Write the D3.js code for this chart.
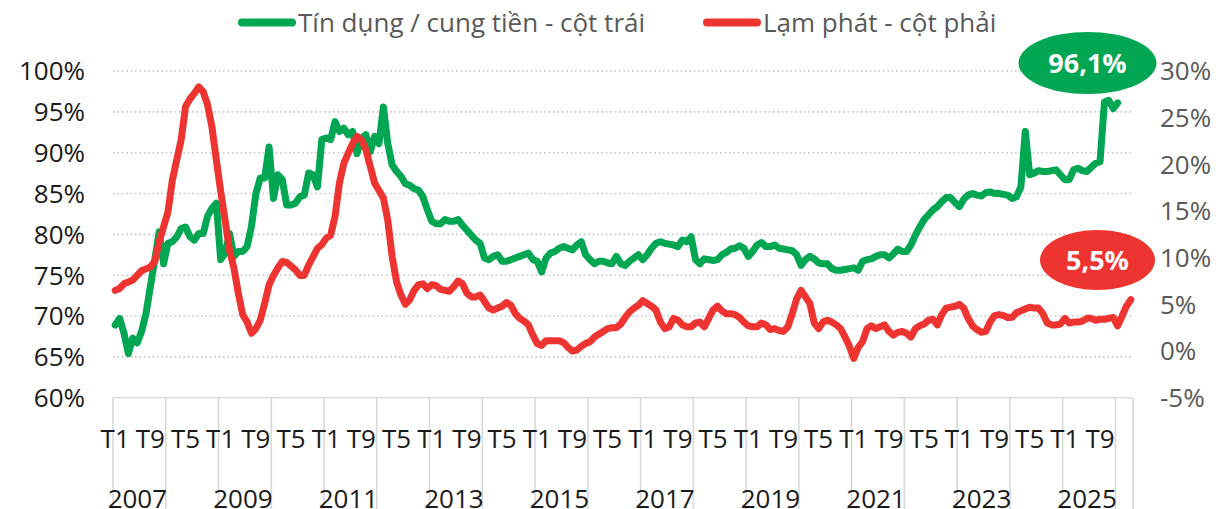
<!DOCTYPE html>
<html lang="vi">
<head>
<meta charset="UTF-8">
<title>Tín dụng / cung tiền và lạm phát</title>
<script src="https://d3js.org/d3.v7.min.js"></script>
<style>
  body { margin: 0; background: #fff; }
  svg text { font-family: "Open Sans", "Noto Sans", sans-serif; }
  .grid line { stroke: #c6c6c6; stroke-width: 1.6; stroke-dasharray: 1.6 2.8; }
  .sep { stroke: #d9d9d9; stroke-width: 1.6; }
  .series { fill: none; stroke-width: 7; stroke-linejoin: round; stroke-linecap: round; }
</style>
</head>
<body>
<svg width="1231" height="509"></svg>
<script>
// chart data: monthly, T1/2007 .. T4/2026
const startYear = 2007;
const monthCount = 232;
const yearLabels = ["2007", "2009", "2011", "2013", "2015", "2017", "2019", "2021", "2023", "2025"];
const monthTickLabels = ["T1", "T9", "T5"];
const leftTicks = [60, 65, 70, 75, 80, 85, 90, 95, 100];
const rightTicks = [-5, 0, 5, 10, 15, 20, 25, 30];

// Tín dụng / cung tiền (%), left axis
const creditRatio = [
  68.9, 69.7, 67.9, 65.4, 67.3, 66.7, 68.1, 70.3, 73.6, 76.9, 80.3, 76.4,
  78.9, 79.1, 79.7, 80.7, 80.9, 79.7, 79.3, 80.1, 80.1, 82.2, 83.2, 83.8,
  76.9, 77.7, 80.1, 77.3, 77.9, 77.9, 78.5, 81.0, 85.0, 86.9, 86.9, 90.7,
  84.4, 87.3, 86.7, 83.6, 83.6, 83.8, 84.6, 84.8, 87.5, 87.3, 85.8, 91.6,
  91.8, 91.6, 93.8, 92.6, 93.0, 92.2, 92.6, 89.9, 91.8, 92.2, 90.1, 92.0,
  91.1, 95.6, 91.1, 88.5, 87.7, 87.1, 86.2, 86.0, 85.6, 85.4, 84.6, 83.0,
  81.6, 81.3, 81.3, 81.8, 81.6, 81.6, 81.8, 81.1, 80.5, 79.9, 79.3, 78.9,
  77.1, 76.9, 77.3, 77.5, 76.7, 76.7, 76.9, 77.1, 77.3, 77.5, 77.7, 76.9,
  76.7, 75.4, 77.1, 77.7, 77.9, 78.3, 78.5, 78.3, 78.1, 78.7, 79.1, 77.5,
  76.9, 76.4, 76.7, 76.7, 76.5, 76.4, 77.3, 76.4, 76.2, 76.7, 77.1, 77.5,
  76.9, 77.5, 78.3, 78.9, 79.1, 78.9, 78.8, 78.7, 78.5, 79.3, 79.1, 79.7,
  76.9, 76.4, 77.0, 76.9, 76.8, 76.9, 77.5, 77.8, 78.2, 78.3, 78.6, 78.3,
  77.3, 77.9, 78.7, 79.0, 78.5, 78.5, 78.7, 78.3, 78.2, 78.1, 78.0, 77.5,
  76.2, 76.9, 77.3, 77.0, 76.5, 76.4, 76.4, 75.8, 75.6, 75.6, 75.7, 75.8,
  75.9, 75.6, 76.7, 76.9, 77.0, 77.3, 77.5, 77.5, 77.1, 77.6, 78.2, 77.9,
  77.9, 78.7, 79.9, 80.9, 81.8, 82.4, 83.0, 83.4, 84.0, 84.5, 84.5, 83.9,
  83.4, 84.3, 84.8, 85.0, 84.8, 84.7, 85.1, 85.2, 85.0, 85.0, 84.9, 84.8,
  84.4, 84.6, 85.8, 92.6, 87.3, 87.5, 87.8, 87.7, 87.7, 87.8, 87.9, 87.3,
  86.7, 86.7, 87.9, 88.1, 87.8, 87.7, 88.2, 88.7, 88.9, 96.2, 96.4, 95.4,
  96.1
];

// Lạm phát (%), right axis
const inflation = [
  6.5, 6.7, 7.2, 7.4, 7.6, 8.1, 8.6, 8.8, 9.0, 9.6, 11.7, 13.3,
  14.9, 18.3, 20.5, 22.6, 26.2, 27.0, 27.6, 28.3, 27.8, 26.4, 24.0, 20.5,
  17.1, 14.0, 10.8, 8.9, 6.2, 3.9, 3.1, 1.9, 2.4, 3.3, 5.1, 7.1,
  8.1, 8.9, 9.6, 9.5, 9.1, 8.7, 8.1, 8.1, 9.2, 10.1, 11.0, 11.4,
  12.1, 12.4, 14.4, 18.0, 20.1, 21.2, 22.2, 23.0, 22.6, 21.6, 19.8, 18.0,
  17.2, 16.4, 14.0, 10.1, 7.4, 6.0, 5.0, 5.5, 6.5, 7.1, 7.2, 6.7,
  7.1, 7.0, 6.6, 6.5, 6.4, 6.9, 7.5, 7.2, 6.2, 5.8, 5.8, 6.0,
  5.3, 4.6, 4.4, 4.6, 4.8, 5.2, 4.9, 4.0, 3.5, 3.2, 2.8, 1.7,
  0.8, 0.6, 1.1, 1.1, 1.1, 1.1, 0.9, 0.4, 0.0, 0.1, 0.5, 0.8,
  1.0, 1.5, 1.8, 2.1, 2.4, 2.5, 2.5, 2.9, 3.6, 4.2, 4.6, 4.9,
  5.4, 5.1, 4.8, 4.4, 3.1, 2.4, 2.6, 3.5, 3.3, 2.8, 2.6, 2.6,
  3.0, 3.1, 2.6, 3.5, 4.4, 4.8, 4.3, 4.0, 4.0, 3.9, 3.6, 3.1,
  2.7, 2.6, 2.6, 3.0, 2.8, 2.3, 2.4, 2.2, 2.1, 2.6, 4.0, 5.6,
  6.5, 5.8, 5.1, 3.0, 2.4, 3.1, 3.3, 3.1, 2.8, 2.4, 1.5, 0.5,
  -0.8, 0.4, 1.0, 2.4, 2.7, 2.4, 2.6, 2.8, 2.1, 1.7, 2.0, 2.1,
  1.9, 1.5, 2.4, 2.7, 2.9, 3.3, 3.4, 2.8, 3.9, 4.6, 4.7, 4.8,
  5.0, 4.6, 3.5, 2.7, 2.3, 2.0, 2.1, 3.1, 3.8, 3.9, 3.8, 3.6,
  3.6, 4.1, 4.3, 4.5, 4.7, 4.6, 4.6, 4.0, 3.0, 2.8, 2.8, 2.9,
  3.5, 3.0, 3.1, 3.1, 3.2, 3.5, 3.5, 3.3, 3.4, 3.4, 3.5, 3.6,
  2.7, 3.7, 4.8, 5.5
];

const seriesNames = ["Tín dụng / cung tiền - cột trái", "Lạm phát - cột phải"];
const lastLabels = ["96,1%", "5,5%"];

const GREEN = "#00a651", RED = "#ee3431";

const svg = d3.select("svg");
const plotLeft = 113, plotRight = 1133, plotTop = 71, plotBottom = 397.7;

const x = d3.scaleLinear().domain([0, monthCount]).range([plotLeft, plotRight]);
const yL = d3.scaleLinear().domain([60, 100]).range([plotBottom, plotTop]);
const yR = d3.scaleLinear().domain([-5, 30]).range([plotBottom, plotTop]);

// dotted horizontal gridlines
svg.append("g").attr("class", "grid")
  .selectAll("line")
  .data(leftTicks.filter(d => d > 60))
  .join("line")
  .attr("x1", plotLeft).attr("x2", plotRight)
  .attr("y1", d => yL(d)).attr("y2", d => yL(d));

// bottom axis line and year separators
svg.append("line").attr("class", "sep")
  .attr("x1", plotLeft).attr("x2", plotRight)
  .attr("y1", plotBottom).attr("y2", plotBottom);

const seps = d3.range(0, monthCount, 12).concat([monthCount]);
svg.append("g").selectAll("line")
  .data(seps)
  .join("line")
  .attr("class", "sep")
  .attr("x1", d => x(d)).attr("x2", d => x(d))
  .attr("y1", plotBottom).attr("y2", 509);

// left axis
const axL = svg.append("g")
  .attr("transform", `translate(${plotLeft},0)`)
  .call(d3.axisLeft(yL).tickValues(leftTicks).tickFormat(d => d + "%").tickSize(0).tickPadding(28));
axL.select(".domain").remove();
axL.selectAll("text").style("font-size", "26px").attr("fill", "#1a1a1a").attr("dy", "0.34em");

// right axis
const axR = svg.append("g")
  .attr("transform", `translate(${plotRight},0)`)
  .call(d3.axisRight(yR).tickValues(rightTicks).tickFormat(d => d + "%").tickSize(0).tickPadding(27));
axR.select(".domain").remove();
axR.selectAll("text").style("font-size", "26px").attr("fill", "#595959").attr("dy", "0.34em");

// month labels every 8 months
const monthTicks = d3.range(0, monthCount, 8).filter(i => x(i + 0.5) < plotRight - 10);
svg.append("g").selectAll("text")
  .data(monthTicks)
  .join("text")
  .attr("x", i => x(i + 0.5))
  .attr("y", 448)
  .attr("text-anchor", "middle")
  .style("font-size", "26px")
  .attr("fill", "#1a1a1a")
  .text((i, k) => monthTickLabels[k % 3]);

// year labels
svg.append("g").selectAll("text")
  .data(yearLabels)
  .join("text")
  .attr("x", d => x((+d - startYear) * 12 + 6) - 2)
  .attr("y", 508)
  .attr("text-anchor", "middle")
  .style("font-size", "26px")
  .attr("fill", "#1a1a1a")
  .text(d => d);

// lines
const creditLine = d3.line().x((d, i) => x(i + 0.5)).y(d => yL(d));
const inflLine = d3.line().x((d, i) => x(i + 0.5)).y(d => yR(d));

svg.append("path").datum(creditRatio)
  .attr("class", "series").attr("stroke", GREEN).attr("d", creditLine);
svg.append("path").datum(inflation)
  .attr("class", "series").attr("stroke", RED).attr("d", inflLine);

// legend
const legend = svg.append("g");
const legendItems = [
  { name: seriesNames[0], color: GREEN, x0: 242 },
  { name: seriesNames[1], color: RED, x0: 707 }
];
legendItems.forEach(it => {
  legend.append("line")
    .attr("x1", it.x0).attr("x2", it.x0 + 50)
    .attr("y1", 22.5).attr("y2", 22.5)
    .attr("stroke", it.color).attr("stroke-width", 8).attr("stroke-linecap", "round");
  legend.append("text")
    .attr("x", it.x0 + 56).attr("y", 32)
    .style("font-size", "26px").attr("fill", "#595959")
    .text(it.name);
});

// last value callouts
const callouts = [
  { label: lastLabels[0], color: GREEN, cx: 1087.5, cy: 63, rx: 69, ry: 31 },
  { label: lastLabels[1], color: RED, cx: 1097.5, cy: 260, rx: 57.5, ry: 30 }
];
callouts.forEach(c => {
  svg.append("ellipse")
    .attr("cx", c.cx).attr("cy", c.cy).attr("rx", c.rx).attr("ry", c.ry)
    .attr("fill", c.color);
  svg.append("text")
    .attr("x", c.cx).attr("y", c.cy + 10)
    .attr("text-anchor", "middle")
    .style("font-size", "27px").style("font-weight", "bold")
    .attr("fill", "#fff")
    .text(c.label);
});
</script>
</body>
</html>
